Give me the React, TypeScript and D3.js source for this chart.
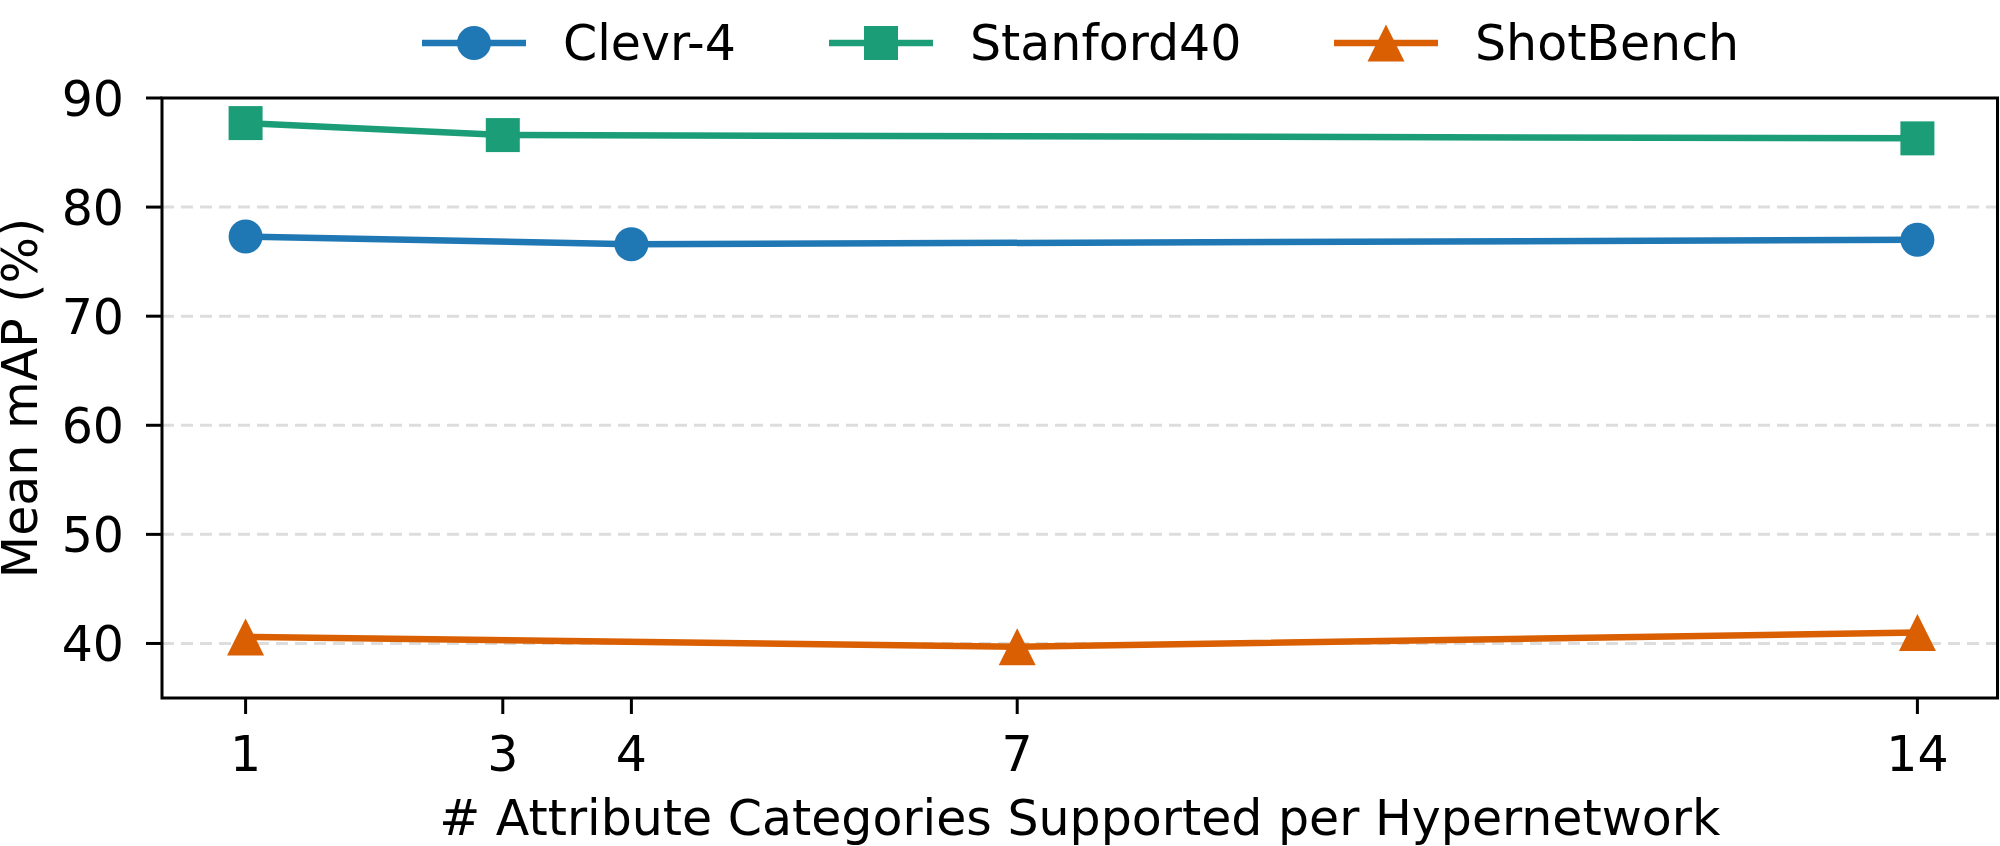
import React from "react";
import * as d3 from "d3";

const xValues = [1, 3, 4, 7, 14];
const clevrX = [1, 4, 14];
const clevrY = [77.3, 76.6, 77.0];
const stanfordX = [1, 3, 14];
const stanfordY = [87.7, 86.6, 86.3];
const shotX = [1, 7, 14];
const shotY = [40.6, 39.7, 41.0];
const yTicks = [40, 50, 60, 70, 80, 90];

const series = [
  { name: "Clevr-4", xs: clevrX, ys: clevrY, color: "#1f77b4", marker: "circle" },
  { name: "Stanford40", xs: stanfordX, ys: stanfordY, color: "#1b9e77", marker: "square" },
  { name: "ShotBench", xs: shotX, ys: shotY, color: "#d95f02", marker: "triangle" },
];

const W = 2000, H = 846;
const margin = { left: 162, right: -1, top: 98, bottom: 148 };
const font = "'DejaVu Sans', sans-serif";
const fs = 49;

function Marker({ type, x, y, color }: { type: string; x: number; y: number; color: string }) {
  if (type === "circle") return <circle cx={x} cy={y} r={17} fill={color} />;
  if (type === "square") return <rect x={x - 17} y={y - 17} width={34} height={34} fill={color} />;
  const s = 18.5;
  return <path d={`M${x},${y - s}L${x - s},${y + s}L${x + s},${y + s}Z`} fill={color} />;
}

export default function App() {
  const x = d3.scaleLinear().domain([0.35, 14.65]).range([margin.left, W - margin.right]);
  const y = d3.scaleLinear().domain([35, 90]).range([H - margin.bottom, margin.top]);
  const line = d3.line<[number, number]>().x(d => x(d[0])).y(d => y(d[1]));
  const legendX = [422, 829, 1334];
  // right spine sits just inside the image edge
  const frameRight = Math.min(x.range()[1], W - 2.5);

  return (
    <svg width={W} height={H} style={{ position: "absolute", left: 0, top: 0, background: "#fff" }} fontFamily={font}>
      {/* grid */}
      {yTicks.filter(t => t < 90).map(t => (
        <line key={t} x1={x.range()[0]} x2={frameRight} y1={y(t)} y2={y(t)}
          stroke="#dddddd" strokeWidth={3} strokeDasharray="12,7" />
      ))}
      {/* series */}
      {series.map(s => {
        const pts = s.xs.map((v, i) => [v, s.ys[i]] as [number, number]);
        return (
          <g key={s.name}>
            <path d={line(pts) || ""} fill="none" stroke={s.color} strokeWidth={6.5} strokeLinejoin="round" />
            {pts.map((p, i) => <Marker key={i} type={s.marker} x={x(p[0])} y={y(p[1])} color={s.color} />)}
          </g>
        );
      })}
      {/* frame */}
      <rect x={x.range()[0]} y={y.range()[1]} width={frameRight - x.range()[0]}
        height={y.range()[0] - y.range()[1]} fill="none" stroke="#000" strokeWidth={3} />
      {/* y ticks */}
      {yTicks.map(t => (
        <g key={t}>
          <line x1={x.range()[0] - 16} x2={x.range()[0]} y1={y(t)} y2={y(t)} stroke="#000" strokeWidth={3} />
          <text x={124} y={y(t)} dy="0.36em" textAnchor="end" fontSize={fs}>{t}</text>
        </g>
      ))}
      {/* x ticks */}
      {xValues.map(t => (
        <g key={t}>
          <line x1={x(t)} x2={x(t)} y1={y.range()[0]} y2={y.range()[0] + 16} stroke="#000" strokeWidth={3} />
          <text x={x(t)} y={771} textAnchor="middle" fontSize={fs}>{t}</text>
        </g>
      ))}
      <text x={(x.range()[0] + frameRight) / 2} y={835} textAnchor="middle" fontSize={fs}>
        # Attribute Categories Supported per Hypernetwork
      </text>
      <text transform={`translate(37,${(y.range()[0] + y.range()[1]) / 2}) rotate(-90)`} textAnchor="middle" fontSize={fs}>
        Mean mAP (%)
      </text>
      {/* legend */}
      {series.map((s, i) => (
        <g key={s.name} transform={`translate(${legendX[i]},43)`}>
          <line x1={0} x2={104} y1={0} y2={0} stroke={s.color} strokeWidth={6.5} />
          <Marker type={s.marker} x={52} y={0} color={s.color} />
          <text x={141} y={17} fontSize={fs}>{s.name}</text>
        </g>
      ))}
    </svg>
  );
}
